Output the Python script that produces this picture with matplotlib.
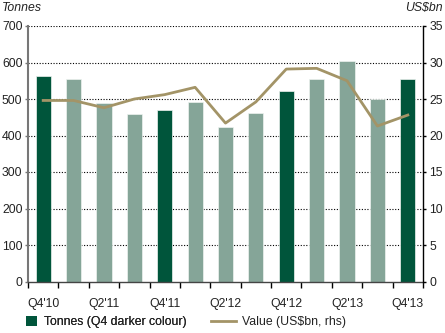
import matplotlib
matplotlib.use("Agg")
import matplotlib.pyplot as plt
from matplotlib.lines import Line2D
from matplotlib.patches import Patch

plt.rcParams['font.family'] = ['Liberation Sans', 'DejaVu Sans']

quarters = ["Q4'10", "Q1'11", "Q2'11", "Q3'11", "Q4'11", "Q1'12", "Q2'12",
            "Q3'12", "Q4'12", "Q1'13", "Q2'13", "Q3'13", "Q4'13"]
tonnes = [564, 556, 490, 458, 471, 491, 423, 463, 523, 556, 604, 499, 556]
value_usbn = [24.8, 24.8, 23.8, 25.0, 25.6, 26.6, 21.7, 24.6, 29.1, 29.2, 27.5, 21.3, 22.8]

dark = "#00553B"
light = "#85A598"
gold = "#A39467"
txt = "#222222"
fs = 8.8

fig = plt.figure(figsize=(4.45, 3.33), dpi=100)
ax = fig.add_axes([28/445, 1 - 281.5/333, 395/445, 255.5/333])
ax2 = ax.twinx()

x = list(range(len(quarters)))
colors = [dark if q.startswith("Q4") else light for q in quarters]
ax.bar(x, tonnes, width=0.5, color=colors, edgecolor="#EEF3F0", linewidth=0.5, zorder=2)
ax.set_xlim(-0.5, len(quarters) - 0.5)
ax.set_ylim(0, 700)
ax.set_yticks(range(0, 701, 100))
for yv in range(100, 701, 100):
    ax.axhline(yv, color="black", linestyle=(0, (1, 1.5)), linewidth=0.8, zorder=1)

ax2.plot(x, value_usbn, color=gold, linewidth=2, zorder=3)
ax2.set_ylim(0, 35)
ax2.set_yticks(range(0, 36, 5))

# Quarter boundaries carry the ticks; every second label sits under its bar
ax.set_xticks([i - 0.5 for i in range(len(quarters) + 1)])
ax.set_xticklabels([])
ax.tick_params(axis='x', length=4, width=1, color="black")
for i, q in enumerate(quarters):
    if i % 2 == 0:
        ax.text(i, -0.065, q, transform=ax.get_xaxis_transform(), ha='center', va='top',
                fontsize=fs, color=txt)

for a in (ax, ax2):
    a.spines['top'].set_visible(False)
ax.spines['left'].set_color("#777777")
ax.spines['left'].set_linewidth(1.5)
ax.spines['right'].set_visible(False)
ax.spines['bottom'].set_color("#444444")
ax.spines['bottom'].set_linewidth(1)
ax2.spines['left'].set_visible(False)
ax2.spines['bottom'].set_visible(False)
ax2.spines['right'].set_color("black")
ax2.spines['right'].set_linewidth(1)

ax.tick_params(axis='y', length=2.5, width=1, labelsize=fs, labelcolor=txt, pad=1.5,
               color="#777777")
ax2.tick_params(axis='y', length=2.5, width=1, labelsize=fs, labelcolor=txt, pad=2)
ax.set_zorder(ax2.get_zorder() - 1)
ax.patch.set_visible(True)
ax2.patch.set_visible(False)

fig.text(2/445, 1 - 8/333, "Tonnes", fontsize=fs, style='italic', ha='left', va='center',
         color=txt)
fig.text(443/445, 1 - 8/333, "US$bn", fontsize=fs, style='italic', ha='right', va='center',
         color=txt)

leg1 = fig.legend([Patch(facecolor=dark, edgecolor='none')], ["Tonnes (Q4 darker colour)"],
                  loc='center left', bbox_to_anchor=(24/445, 1 - 322/333), frameon=False,
                  fontsize=fs, handlelength=0.85, handleheight=0.85, handletextpad=0.55,
                  labelcolor=txt, borderaxespad=0, borderpad=0.2)
fig.legend([Line2D([0], [0], color=gold, linewidth=2)], ["Value (US$bn, rhs)"],
           loc='center left', bbox_to_anchor=(209/445, 1 - 322/333), frameon=False,
           fontsize=fs, handlelength=2.0, handletextpad=0.5, labelcolor=txt,
           borderaxespad=0, borderpad=0.2)
fig.add_artist(leg1)

fig.savefig("out.png", dpi=100)
